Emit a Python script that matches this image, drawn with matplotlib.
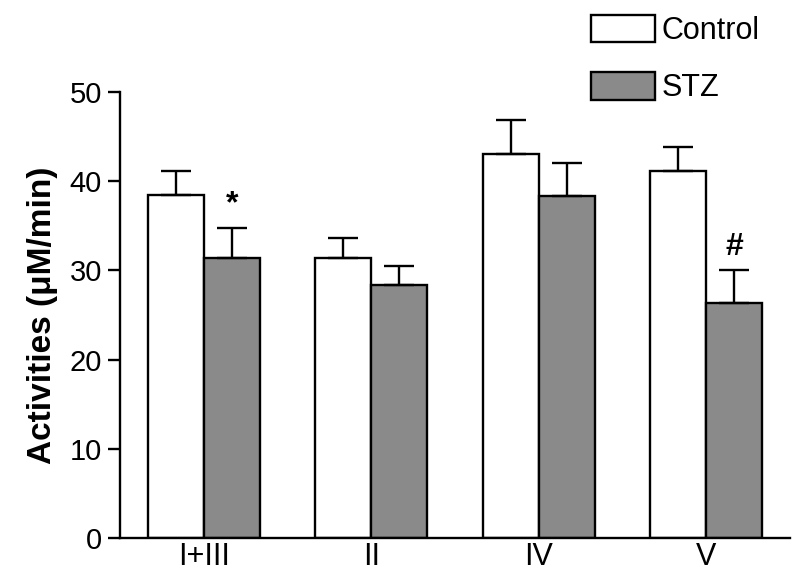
import matplotlib
matplotlib.use("Agg")
import matplotlib.pyplot as plt
import numpy as np

plt.rcParams['font.family'] = ['Liberation Sans', 'DejaVu Sans']

categories = ["I+III", "II", "IV", "V"]
control = [38.5, 31.4, 43.0, 41.1]
control_err = [2.7, 2.2, 3.9, 2.7]
stz = [31.4, 28.4, 38.3, 26.4]
stz_err = [3.4, 2.1, 3.7, 3.7]
marks = ["*", "", "", "#"]
yticks = [0, 10, 20, 30, 40, 50]

fig = plt.figure(figsize=(8, 5.85), dpi=100)
ax = fig.add_axes([0.15, 0.0803, 0.8375, 0.7624])

x = np.arange(len(categories))
w = 1/3
ax.bar(x - w/2, control, w, color="white", edgecolor="black", linewidth=1.7,
       yerr=[np.zeros(len(control)), control_err],
       error_kw=dict(ecolor="black", elinewidth=1.7, capsize=11, capthick=1.7),
       label="Control", zorder=2)
ax.bar(x + w/2, stz, w, color="#8a8a8a", edgecolor="black", linewidth=1.7,
       yerr=[np.zeros(len(stz)), stz_err],
       error_kw=dict(ecolor="black", elinewidth=1.7, capsize=11, capthick=1.7),
       label="STZ", zorder=2)

for i, m in enumerate(marks):
    if m:
        ax.text(x[i] + w/2, stz[i] + stz_err[i] + 0.9, m, ha="center", va="bottom",
                fontsize=23, fontweight="bold")

ax.set_xlim(-0.5, 3.5)
ax.set_ylim(0, 50)
ax.set_yticks(yticks)
ax.set_xticks(x)
ax.set_xticklabels(categories)
ax.tick_params(axis="y", length=9, width=1.7, labelsize=21, pad=4)
ax.tick_params(axis="x", length=0, labelsize=22, pad=3)
for s in ["top", "right"]:
    ax.spines[s].set_visible(False)
for s in ["left", "bottom"]:
    ax.spines[s].set_linewidth(1.7)
ax.spines["bottom"].set_bounds(-0.5, 3.5)
ax.set_ylabel("Activities (\u03bcM/min)", fontsize=24, fontweight="bold", labelpad=8)

leg = ax.legend(loc="upper left", bbox_to_anchor=(0.685, 1.2), frameon=False,
                fontsize=22, handlelength=2.1, handleheight=1.0, handletextpad=0.2,
                labelspacing=0.85, borderaxespad=0)

fig.savefig("out.png", dpi=100)
